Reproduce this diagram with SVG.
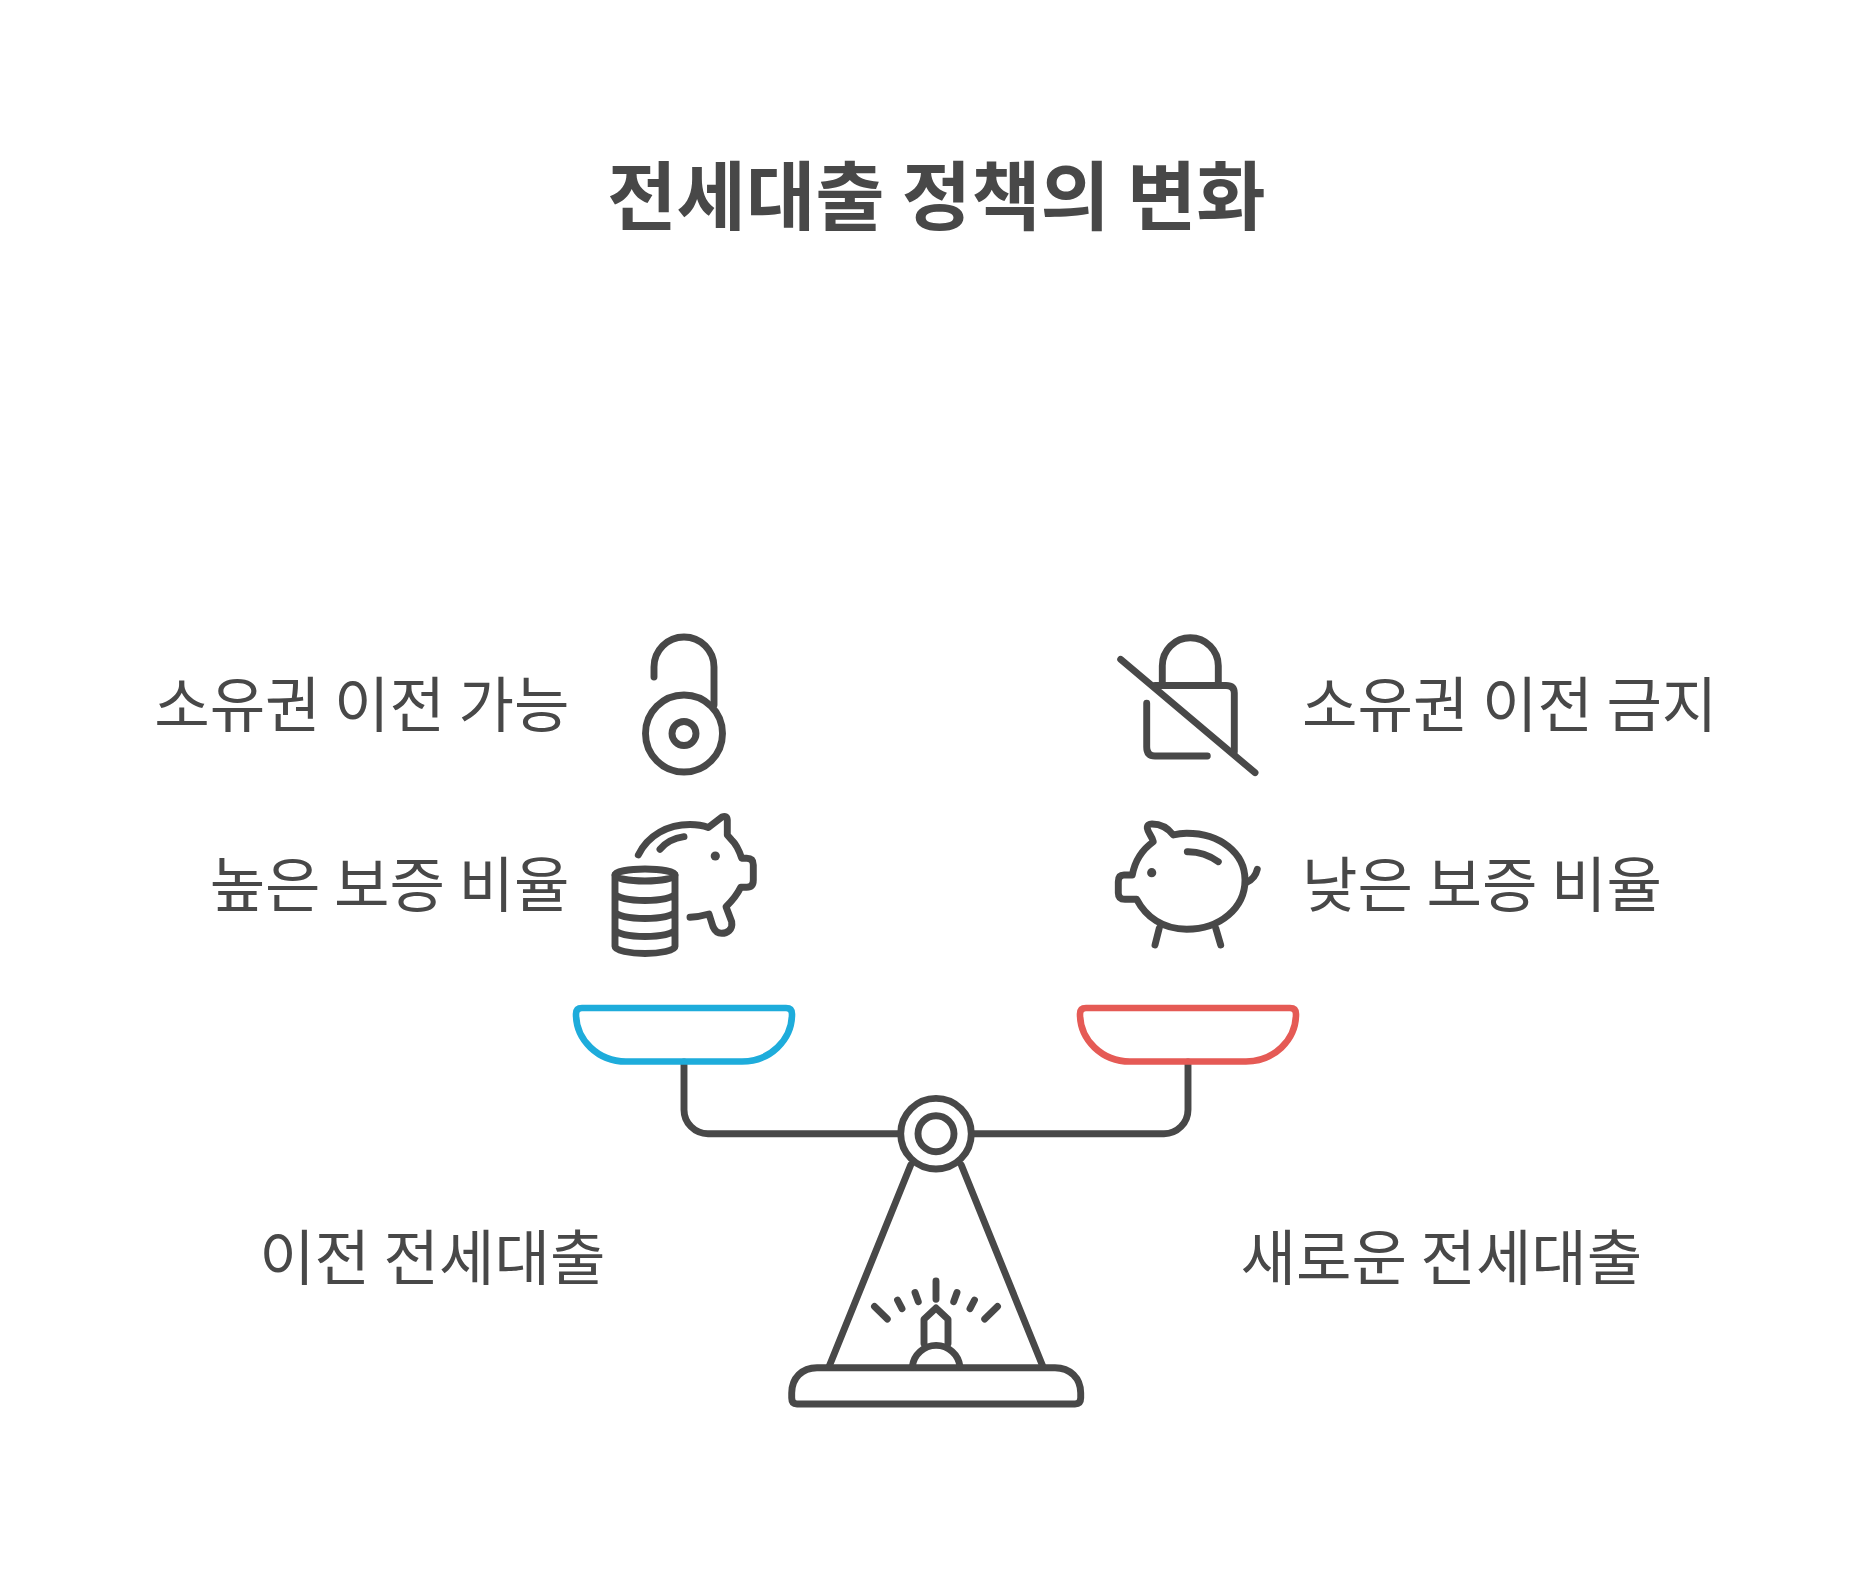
<svg xmlns="http://www.w3.org/2000/svg" width="1872" height="1585" viewBox="0 0 1872 1585">
<style>
text{font-family:"Noto Sans CJK KR","Noto Sans",sans-serif;fill:#484848;font-size:60.3px}
.t{font-size:75.4px;font-weight:700;text-anchor:middle}
.e{text-anchor:end}
.s{fill:none;stroke:#484848;stroke-width:6.9;stroke-linecap:round;stroke-linejoin:round}
.p{fill:none;stroke-width:6.6;stroke-linejoin:round}
.d{fill:#484848}
</style>
<rect width="1872" height="1585" fill="#fff"/>
<text id="title" class="t" x="936.5" y="224">전세대출 정책의 변화</text>
<g id="connectors">
<path class="s" d="M684 1062V1109.7A24 24 0 0 0 708 1133.7H899"/>
<path class="s" d="M1188 1062V1109.7A24 24 0 0 1 1164 1133.7H973"/>
</g>
<g id="pan-left"><path class="p" d="M582 1008H786Q792 1008 792 1014C792 1040 770 1061.5 742 1061.5H626C598 1061.5 576 1040 576 1014Q576 1008 582 1008Z" stroke="#1eacdb"/></g>
<g id="pan-right"><path class="p" d="M1086 1008H1290Q1296 1008 1296 1014C1296 1040 1274 1061.5 1246 1061.5H1130C1102 1061.5 1080 1040 1080 1014Q1080 1008 1086 1008Z" stroke="#e55a55"/></g>
<g id="fulcrum">
<circle class="s" cx="936" cy="1133.7" r="35.3"/>
<circle class="s" cx="936" cy="1133.7" r="18"/>
<path class="s" d="M910.7 1165L829.3 1366M961.3 1165L1042.7 1366"/>
<path class="s" d="M817 1367.7H1055C1070 1367.7 1080.7 1378 1080.7 1393V1398Q1080.7 1404 1075 1404H797Q791.7 1404 791.7 1398V1393C791.7 1378 802 1367.7 817 1367.7Z"/>
<path class="s" d="M912.3 1366.7A24 24 0 0 1 960 1366.7"/>
<path class="s" d="M924 1343.5V1319.3L936 1308L948 1319.3V1343.5"/>
<path class="s" d="M936 1281V1299.3M915 1292.5L918.3 1301.7M897.5 1300L902 1308.7M874.5 1306.5L887.3 1319M957 1292.5L953.7 1301.7M974.5 1300L970 1308.7M997.5 1306.5L984.7 1319"/>
</g>
<g id="node-old">
<text x="605.5" y="1280" class="e">이전 전세대출</text>
</g>
<g id="node-new">
<text x="1240.5" y="1280">새로운 전세대출</text>
</g>
<g id="node-transfer-ok">
<text x="569.5" y="727" class="e">소유권 이전 가능</text>
<path class="s" d="M654 677V667A30 30 0 0 1 714 667V705"/>
<circle class="s" cx="684" cy="733.5" r="38.5"/>
<circle class="s" cx="684" cy="733.5" r="12"/>
</g>
<g id="node-transfer-no">
<text x="1302" y="727">소유권 이전 금지</text>
<path class="s" d="M1120.7 659.3L1255 772.7"/>
<path class="s" d="M1162.3 685V665.8A28 28 0 0 1 1218.3 665.8V685"/>
<path class="s" d="M1155 685.5H1226Q1234.3 685.5 1234.3 693V751.7M1146.7 703.3V747Q1146.7 756 1155 756H1207.3"/>
</g>
<g id="node-high">
<text x="569.5" y="907" class="e">높은 보증 비율</text>
<path class="s" d="M638.3 855C648 835 668 824.5 690 824.5C697 824.5 703 825.5 708.3 827.5L722 817Q727 815 727.3 820V835L731.7 840C736 844 739 850 741.7 858.3H746.7Q753.3 858.3 753.3 865V880Q753.3 887.3 746.7 887.3H740.7C737 895 732 901 726 906.7L731.7 921.7C733 930 727 933.3 721.7 933.3C717 933.3 714.5 930 713 926.7L709 914C702 916 696 917 690 917.3"/>
<path class="s" d="M660 849.3C666 842 675 838 684 836.7"/>
<circle class="d" cx="715.3" cy="856" r="4.6"/>
<ellipse class="s" cx="645" cy="875" rx="30" ry="6"/>
<path class="s" d="M615 875V946.5C615 950.5 630 953.5 645 953.5S675 950.5 675 946.5V875M615 893C615 898 630 900.5 645 900.5S675 898 675 893M615 911C615 916 630 918.5 645 918.5S675 916 675 911M615 929C615 934 630 936.5 645 936.5S675 934 675 929"/>
</g>
<g id="node-low">
<text x="1302" y="907">낮은 보증 비율</text>
<path class="s" d="M1173.3 835C1178 833.7 1182 833.3 1186.7 833.3C1220 833.3 1245 853 1245 880C1245 908 1220 929.3 1186.7 929.3C1163 929.3 1146 917 1136.7 899.3H1125Q1118.3 899.3 1118.3 893V881.7Q1118.3 875 1124 875H1132.3C1135 860 1143 849 1153.3 841.7C1152 836 1148 833 1147.3 828.3C1147 825 1149 824 1152 824C1162 824 1168 828 1173.3 835Z"/>
<path class="s" d="M1187.3 851.7C1199 851.5 1209 855 1218.3 861.7"/>
<circle class="d" cx="1151.7" cy="872.7" r="4.6"/>
<path class="s" d="M1246.7 882.3C1252 880 1256 875 1257.3 869.3M1159.3 928L1155 945M1215.7 928L1220.7 945"/>
</g>
</svg>
